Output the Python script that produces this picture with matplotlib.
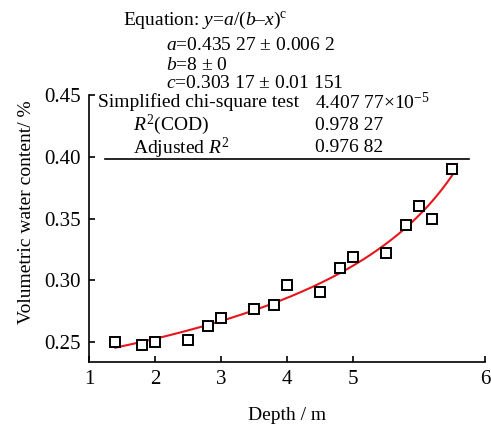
import matplotlib
matplotlib.use("Agg")
import numpy as np
import matplotlib.pyplot as plt

plt.rcParams['font.family'] = ['Liberation Serif', 'DejaVu Serif']
plt.rcParams['mathtext.fontset'] = 'custom'
plt.rcParams['mathtext.rm'] = 'Liberation Serif'
plt.rcParams['mathtext.it'] = 'Liberation Serif:italic'

# measured points
depth = [1.4, 1.8, 2.0, 2.5, 2.8, 3.0, 3.5, 3.8, 4.0, 4.5, 4.8, 5.0, 5.5, 5.8, 6.0, 6.2, 6.5]
water = [0.250, 0.248, 0.250, 0.252, 0.263, 0.270, 0.277, 0.280, 0.296, 0.291,
         0.310, 0.319, 0.322, 0.345, 0.360, 0.350, 0.390]

# fitted parameters shown on the chart
fit_a = 0.43527
fit_b = 8.0
fit_c = 0.30317

xtick_pos = [1, 2, 3, 4, 5, 7]
xtick_lab = ['1', '2', '3', '4', '5', '6']
ytick_pos = [0.25, 0.30, 0.35, 0.40, 0.45]

fig = plt.figure(figsize=(4.91, 4.28), dpi=100)
ax = fig.add_axes([0.181, 0.154, 0.807, 0.624])

xf = np.linspace(depth[0], depth[-1], 200)
ax.plot(xf, fit_a / (fit_b - xf) ** fit_c, color='#e8151b', lw=1.5, zorder=2)
ax.plot(depth, water, 's', ms=7, mfc='white', mec='black', mew=1.4, zorder=3)

ax.set_xlim(1, 7)
ax.set_ylim(0.234, 0.45)
ax.set_xticks(xtick_pos)
ax.set_xticklabels(xtick_lab)
ax.set_yticks(ytick_pos)
ax.set_yticklabels(['%.2f' % v for v in ytick_pos])
ax.tick_params(direction='in', length=4, width=1.2, labelsize=15, pad=6)
for s in ['top', 'right']:
    ax.spines[s].set_visible(False)
for s in ['left', 'bottom']:
    ax.spines[s].set_linewidth(1.2)

ax.set_xlabel('Depth / m', fontsize=14, labelpad=13)
fig.text(27 / 491, 1 - 212 / 428, 'Volumetric water content/ %', fontsize=14,
         rotation=90, ha='center', va='center')

# stats box
ax.plot([1.24, 6.76], [0.398, 0.398], color='black', lw=1.2, clip_on=False)
fs = 14
fig.text(123 / 491, 1 - 20 / 428, r'Equation: $y$=$a$/($b$–$x$)$^{\mathrm{c}}$', fontsize=fs, va='center')
fig.text(166 / 491, 1 - 46 / 428, r'$a$=0.435 27 ± 0.006 2', fontsize=fs, va='center')
fig.text(166 / 491, 1 - 66 / 428, r'$b$=8 ± 0', fontsize=fs, va='center')
fig.text(166 / 491, 1 - 84 / 428, r'$c$=0.303 17 ± 0.01 151', fontsize=fs, va='center')
fig.text(98 / 491, 1 - 102 / 428, 'Simplified chi-square test', fontsize=fs, va='center')
fig.text(315 / 491, 1 - 102 / 428, r'4.407 77×10$^{-5}$', fontsize=fs, va='center')
fig.text(133 / 491, 1 - 125 / 428, r'$R^{2}$(COD)', fontsize=fs, va='center')
fig.text(315 / 491, 1 - 125 / 428, '0.978 27', fontsize=fs, va='center')
fig.text(133 / 491, 1 - 148 / 428, r'Adjusted $R^{2}$', fontsize=fs, va='center')
fig.text(315 / 491, 1 - 148 / 428, '0.976 82', fontsize=fs, va='center')

fig.savefig('out.png', dpi=100)
